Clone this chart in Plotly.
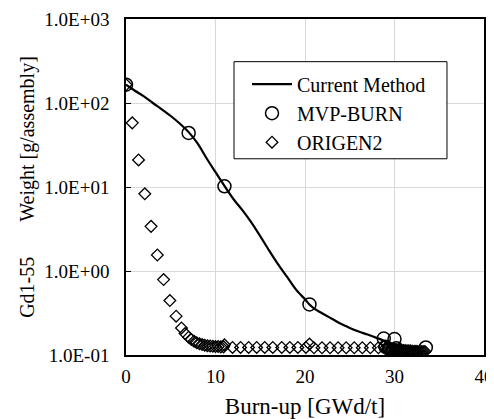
import plotly.graph_objects as go

# Current Method (smooth curve)
current_x = [0, 1, 2, 3, 4, 5, 6, 7, 8, 9, 10, 11, 12, 13, 14, 15, 16, 17, 18, 19, 20, 20.5,
             21, 22, 23, 24, 25, 26, 27, 28, 29, 30, 31, 32, 33, 33.5]
current_y = [165, 140, 120, 100, 84, 70, 57, 45, 33, 22, 15, 10.3, 7.2, 5.3, 3.8, 2.6, 1.75, 1.2,
             0.85, 0.6, 0.46, 0.40, 0.36, 0.31, 0.27, 0.235, 0.21, 0.19, 0.175, 0.16, 0.145,
             0.13, 0.122, 0.116, 0.112, 0.11]

# MVP-BURN
mvp_x = [0, 7, 11, 20.5, 28.8, 29.0, 29.4, 29.8, 30.0, 30.2, 30.5, 33.5]
mvp_y = [165, 44, 10.2, 0.40, 0.157, 0.125, 0.118, 0.113, 0.155, 0.12, 0.112, 0.123]

# ORIGEN2
orig_x = [0, 0.7, 1.4, 2.1, 2.8, 3.5, 4.2, 4.9, 5.6, 6.2, 6.6, 7.0, 7.3, 7.6, 7.9, 8.2, 8.5,
          8.8, 9.1, 9.4, 9.7, 10.0, 10.3, 10.6, 10.9, 11.0, 11.9, 12.8, 13.7, 14.6, 15.5, 16.4,
          17.4, 18.3, 19.2, 20.1, 20.5, 21.0, 21.9, 22.8, 23.7, 24.6, 25.5, 26.4, 27.3, 28.2,
          28.8, 29.0, 29.2, 29.4, 29.6, 29.8, 30.0, 30.2, 30.4, 30.6, 30.8, 31.0, 31.2, 31.4,
          31.6, 31.8, 32.0, 32.2, 32.4, 32.6, 32.8, 33.0, 33.2, 33.4]
orig_y = [165, 58, 21, 8.3, 3.4, 1.55, 0.79, 0.445, 0.29, 0.21, 0.18, 0.163, 0.153, 0.146,
          0.14, 0.136, 0.133, 0.131, 0.129, 0.128, 0.127, 0.126, 0.126, 0.125, 0.125, 0.132,
          0.123, 0.123, 0.123, 0.123, 0.123, 0.123, 0.123, 0.123, 0.123, 0.123, 0.135,
          0.122, 0.122, 0.122, 0.122, 0.122, 0.122, 0.122, 0.122, 0.122,
          0.125, 0.12, 0.118, 0.117, 0.116, 0.116, 0.118, 0.116, 0.115, 0.114, 0.114, 0.113,
          0.113, 0.112, 0.112, 0.112, 0.111, 0.111, 0.111, 0.11, 0.11, 0.11, 0.11, 0.11]

y_tickvals = [0.1, 1, 10, 100, 1000]
y_ticktext = ["1.0E-01", "1.0E+00", "1.0E+01", "1.0E+02", "1.0E+03"]
x_tickvals = [0, 10, 20, 30, 40]

FONT = "Liberation Serif, Times New Roman, serif"
NB = "\u00a0"

fig = go.Figure()
fig.add_trace(go.Scatter(x=current_x, y=current_y, mode="lines", name="Current Method",
                         line=dict(color="black", width=2.2, shape="spline", smoothing=0.8)))
fig.add_trace(go.Scatter(x=mvp_x, y=mvp_y, mode="markers", name="MVP-BURN",
                         marker=dict(symbol="circle-open", size=13, color="black",
                                     line=dict(width=1.5, color="black"))))
fig.add_trace(go.Scatter(x=orig_x, y=orig_y, mode="markers", name="ORIGEN2",
                         marker=dict(symbol="diamond-open", size=9, color="black",
                                     line=dict(width=1.3, color="black"))))

# legend frame
fig.add_shape(type="rect", xref="paper", yref="paper", x0=0.3017, x1=0.8966, y0=0.584, y1=0.873,
              line=dict(color="black", width=1), fillcolor="white", layer="above")

fig.update_layout(
    width=486, height=411,
    margin=dict(l=118, r=10, t=11, b=64),
    paper_bgcolor="white", plot_bgcolor="white",
    font=dict(family=FONT, color="black", size=19),
    showlegend=True,
    legend=dict(x=0.338, y=0.864, xanchor="left", yanchor="top",
                borderwidth=0, bgcolor="rgba(0,0,0,0)",
                font=dict(family=FONT, size=20, color="black"),
                itemwidth=40, tracegroupgap=0),
    xaxis=dict(range=[0, 40], tickvals=x_tickvals, showgrid=True, gridcolor="#d9d9d9",
               gridwidth=1, showline=True, linecolor="black", linewidth=1.5, mirror=True,
               zeroline=False, ticks="", tickfont=dict(size=19), ticklabelstandoff=3,
               automargin=False,
               title=dict(text="Burn-up [GWd/t]", font=dict(size=23), standoff=13)),
    yaxis=dict(type="log", range=[-1, 3], tickvals=y_tickvals, ticktext=y_ticktext,
               showgrid=True, gridcolor="#d9d9d9", gridwidth=1, showline=True,
               linecolor="black", linewidth=1.5, mirror=True, zeroline=False,
               ticks="inside", ticklen=5, tickcolor="black", tickfont=dict(size=19),
               ticklabelstandoff=11, automargin=False,
               title=dict(text="Gd1-55" + NB * 7 + "Weight [g/assembly]",
                          font=dict(size=20), standoff=4)),
)

fig.write_html("out.html")
